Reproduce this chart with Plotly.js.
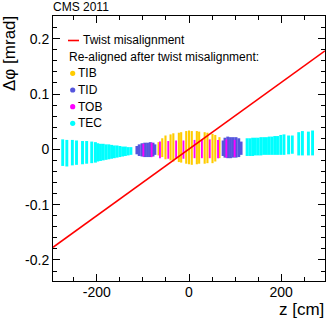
<!DOCTYPE html>
<html>
<head>
<meta charset="utf-8">
<script src="https://cdn.plot.ly/plotly-3.0.1.min.js"></script>
<style>html,body{margin:0;padding:0;background:#fff;}#chart{width:332px;height:324px;}</style>
</head>
<body>
<div id="chart"></div>
<script>
// ---- data ----
const twistZ = [-295, 295];
const twistDphi = [-0.177, 0.178];

const tecZ  = [-274,-265,-253,-244,-231,-222,-211,-203,-198,-192,-186,-180,-174,-168,-162,-156,-150,-144,-138,-132,-126,
               126,132,138,144,150,156,162,168,174,180,186,192,199,206,216,224,238,246,259,268];
const tecLo = [-0.030,-0.031,-0.029,-0.028,-0.027,-0.026,-0.025,-0.024,-0.022,-0.021,-0.020,-0.019,-0.018,-0.017,-0.016,-0.015,-0.014,-0.013,-0.012,-0.011,-0.010,
               -0.012,-0.012,-0.012,-0.011,-0.011,-0.011,-0.010,-0.010,-0.010,-0.010,-0.010,-0.010,-0.010,-0.010,-0.009,-0.008,-0.011,-0.011,-0.011,-0.011];
const tecHi = [0.018,0.017,0.017,0.016,0.015,0.015,0.014,0.013,0.011,0.010,0.010,0.009,0.009,0.008,0.007,0.007,0.006,0.005,0.005,0.004,0.004,
               0.020,0.020,0.021,0.021,0.021,0.022,0.022,0.022,0.023,0.023,0.024,0.024,0.026,0.027,0.025,0.025,0.031,0.033,0.032,0.034];

const tidZ  = [-113,-108,-102,-96,-90,-84,-78,-74, 74,78,84,90,96,102,108,113];
const tidLo = [-0.009,-0.012,-0.013,-0.014,-0.014,-0.014,-0.013,-0.010, -0.012,-0.015,-0.016,-0.016,-0.015,-0.015,-0.014,-0.010];
const tidHi = [0.006,0.009,0.011,0.012,0.012,0.013,0.012,0.009, 0.016,0.021,0.023,0.022,0.022,0.022,0.020,0.014];

const tibZ  = [-66,-58,-51,-40,-34,-22,-17,-6,0,6,17,22,34,40,51,57,66];
const tibLo = [-0.011,-0.014,-0.018,-0.020,-0.022,-0.023,-0.024,-0.026,-0.027,-0.028,-0.027,-0.026,-0.026,-0.025,-0.025,-0.022,-0.016];
const tibHi = [0.013,0.020,0.025,0.027,0.029,0.030,0.031,0.033,0.034,0.033,0.033,0.032,0.031,0.030,0.028,0.026,0.022];

const tobZ  = [-99,-81,-63,-45,-28,-12,12,28,45,63,81,99];
const tobLo = [-0.013,-0.014,-0.016,-0.017,-0.017,-0.017,-0.016,-0.016,-0.016,-0.016,-0.015,-0.014];
const tobHi = [0.010,0.012,0.014,0.015,0.016,0.016,0.017,0.018,0.018,0.017,0.018,0.017];

const xTickVals = [-200, 0, 200];
const xTickText = ['-200', '0', '200'];
const yTickVals = [-0.2, -0.1, 0, 0.1, 0.2];
const yTickText = ['-0.2', '-0.1', '0', '0.1', '0.2'];

const legendNames = ['TIB', 'TID', 'TOB', 'TEC'];
const colTIB = '#ffcc00', colTID = '#5555dd', colTOB = '#ff00ff', colTEC = '#00ffff';
const legendColors = [colTIB, colTID, colTOB, colTEC];

// ---- layout geometry ----
const W = 332, H = 324;
const M = {l: 53, r: 7, t: 16, b: 43};
const PW = W - M.l - M.r, PH = H - M.t - M.b;
const px = x => (x - M.l) / PW;
const py = y => (H - M.b - y) / PH;
const FONT = 'Liberation Sans, Arial, Helvetica, sans-serif';

function stripes(z, lo, hi, color, w) {
  return {
    type: 'bar', x: z, base: lo, y: hi.map((h, i) => h - lo[i]),
    width: w, marker: {color: color, line: {width: 0}}, opacity: 1,
    showlegend: false, hoverinfo: 'skip'
  };
}

const data = [
  stripes(tecZ, tecLo, tecHi, colTEC, 6.3),
  stripes(tidZ, tidLo, tidHi, colTID, 6.3),
  stripes(tibZ, tibLo, tibHi, colTIB, 4.6),
  stripes(tobZ, tobLo, tobHi, colTOB, 4),
  {type: 'scatter', mode: 'lines', x: twistZ, y: twistDphi,
   line: {color: '#ff0000', width: 1.6}, showlegend: false, hoverinfo: 'skip'}
];

const annotations = [
  {text: 'CMS 2011', xref: 'paper', yref: 'paper', x: px(51), y: py(16), xanchor: 'left', yanchor: 'bottom',
   showarrow: false, font: {family: FONT, size: 12, color: '#000'}},
  {text: 'Δφ [mrad]', xref: 'paper', yref: 'paper', x: px(9.5), y: py(14), xanchor: 'center', yanchor: 'top',
   textangle: -90, showarrow: false, font: {family: FONT, size: 17, color: '#000'}},
  {text: 'z [cm]', xref: 'paper', yref: 'paper', x: px(326), y: py(309.5), xanchor: 'right', yanchor: 'middle',
   showarrow: false, font: {family: FONT, size: 17, color: '#000'}},
  {text: 'Twist misalignment', xref: 'paper', yref: 'paper', x: px(81), y: py(40), xanchor: 'left', yanchor: 'middle',
   showarrow: false, font: {family: FONT, size: 12, color: '#000'}},
  {text: 'Re-aligned after twist misalignment:', xref: 'paper', yref: 'paper', x: px(67), y: py(56.7), xanchor: 'left', yanchor: 'middle',
   showarrow: false, font: {family: FONT, size: 12, color: '#000'}}
];
const shapes = [
  {type: 'line', xref: 'paper', yref: 'paper', x0: px(68), x1: px(79), y0: py(40.5), y1: py(40.5),
   line: {color: '#ff0000', width: 1.6}}
];
const rowY = [73.3, 90, 106.7, 123.3];
legendNames.forEach((n, i) => {
  annotations.push({text: n, xref: 'paper', yref: 'paper', x: px(76), y: py(rowY[i]), xanchor: 'left', yanchor: 'middle',
    showarrow: false, font: {family: FONT, size: 12, color: '#000'}});
  shapes.push({type: 'circle', xref: 'paper', yref: 'paper', xsizemode: 'pixel', ysizemode: 'pixel',
    xanchor: px(72.7), yanchor: py(rowY[i]), x0: -2.6, x1: 2.6, y0: -2.6, y1: 2.6,
    fillcolor: legendColors[i], line: {width: 0}});
});

const axisCommon = {
  showgrid: false, zeroline: false, showline: true, linecolor: '#000', linewidth: 1,
  mirror: 'allticks', ticks: 'inside', ticklen: 7, tickwidth: 1, tickcolor: '#000',
  tickfont: {family: FONT, size: 14, color: '#000'}, tickmode: 'array'
};

const layout = {
  width: W, height: H, margin: M, paper_bgcolor: '#fff', plot_bgcolor: '#fff',
  barmode: 'overlay', showlegend: false, hovermode: false,
  xaxis: Object.assign({}, axisCommon, {range: [-295, 295], tickvals: xTickVals, ticktext: xTickText,
    ticklabelstandoff: -2,
    minor: {tickmode: 'linear', tick0: 0, dtick: 50, ticks: 'inside', ticklen: 4, tickcolor: '#000', tickwidth: 1}}),
  yaxis: Object.assign({}, axisCommon, {range: [-0.238, 0.241], tickvals: yTickVals, ticktext: yTickText,
    minor: {tickmode: 'linear', tick0: 0, dtick: 0.02, ticks: 'inside', ticklen: 4, tickcolor: '#000', tickwidth: 1}}),
  annotations: annotations, shapes: shapes
};

Plotly.newPlot('chart', data, layout, {staticPlot: true, displayModeBar: false});
</script>
</body>
</html>
